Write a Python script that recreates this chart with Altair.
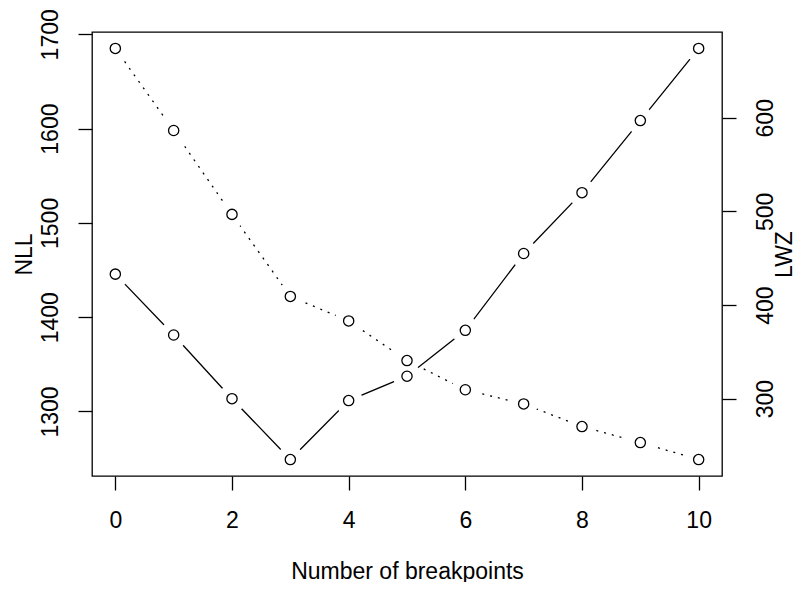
import altair as alt
import pandas as pd

breakpoints = [0, 1, 2, 3, 4, 5, 6, 7, 8, 9, 10]
nll = [1685, 1598, 1509, 1422, 1396, 1354, 1323, 1308, 1284, 1267, 1249]
lwz = [433, 368, 300, 235, 298, 324, 373, 455, 520, 597, 674]
x_ticks = [0, 2, 4, 6, 8, 10]
nll_ticks = [1300, 1400, 1500, 1600, 1700]
lwz_ticks = [300, 400, 500, 600]

df = pd.DataFrame({"k": breakpoints, "NLL": nll, "LWZ": lwz})

def r_range(v):
    lo, hi = min(v), max(v)
    d = hi - lo
    return [lo - 0.04 * d, hi + 0.04 * d]

FONT = "Liberation Sans"
FS = 23
W, H = 630, 444

x_enc = alt.X("k:Q", scale=alt.Scale(domain=r_range(breakpoints), nice=False, zero=False),
              axis=alt.Axis(values=x_ticks, title="Number of breakpoints", tickSize=14, format="d",
                            labelPadding=30, labelAlign="center", labelBaseline="middle",
                            titleX=W / 2, titleY=95, titleBaseline="middle",
                            titleAlign="center"))

nll_scale = alt.Scale(domain=r_range(nll), nice=False, zero=False)
lwz_scale = alt.Scale(domain=r_range(lwz), nice=False, zero=False)

base = alt.Chart(df)

nll_line = base.mark_line(color="black", strokeWidth=1.3, strokeDash=[2, 6]).encode(
    x=x_enc,
    y=alt.Y("NLL:Q", scale=nll_scale,
            axis=alt.Axis(orient="left", values=nll_ticks, title="NLL", tickSize=14, format="d",
                          labelAngle=270, labelAlign="center", labelBaseline="middle",
                          labelPadding=28, titleAngle=270, titleX=-68, titleY=H / 2,
                          titleAlign="center", titleBaseline="middle")))
nll_mask = base.mark_point(shape="circle", filled=True, color="white", opacity=1, size=784).encode(
    x=x_enc, y=alt.Y("NLL:Q", scale=nll_scale, axis=None))
nll_pts = base.mark_point(shape="circle", filled=False, color="black", opacity=1, size=105,
                          strokeWidth=1.3).encode(
    x=x_enc, y=alt.Y("NLL:Q", scale=nll_scale, axis=None))

lwz_line = base.mark_line(color="black", strokeWidth=1.3).encode(
    x=x_enc,
    y=alt.Y("LWZ:Q", scale=lwz_scale,
            axis=alt.Axis(orient="right", values=lwz_ticks, title="LWZ", tickSize=14, format="d",
                          labelAngle=270, labelAlign="center", labelBaseline="middle",
                          labelPadding=29, titleAngle=270, titleX=62, titleY=H / 2,
                          titleAlign="center", titleBaseline="middle")))
lwz_mask = base.mark_point(shape="circle", filled=True, color="white", opacity=1, size=784).encode(
    x=x_enc, y=alt.Y("LWZ:Q", scale=lwz_scale, axis=None))
lwz_pts = base.mark_point(shape="circle", filled=False, color="black", opacity=1, size=105,
                          strokeWidth=1.3).encode(
    x=x_enc, y=alt.Y("LWZ:Q", scale=lwz_scale, axis=None))

chart = alt.layer(nll_line, nll_mask, lwz_line, lwz_mask, nll_pts, lwz_pts).resolve_scale(
    y="independent"
).properties(
    width=W, height=H,
    autosize=alt.AutoSizeParams(type="none"),
    padding={"left": 84, "top": 24, "right": 75, "bottom": 106},
    background="white",
).configure_view(
    stroke="black", strokeWidth=1.3
).configure_axis(
    grid=False, domain=False, tickColor="black", tickWidth=1.3,
    labelFont=FONT, labelFontSize=FS, labelColor="black",
    titleFont=FONT, titleFontSize=FS, titleColor="black", titleFontWeight="normal",
)

chart.save("out.html", embed_options={"renderer": "svg", "actions": False})
